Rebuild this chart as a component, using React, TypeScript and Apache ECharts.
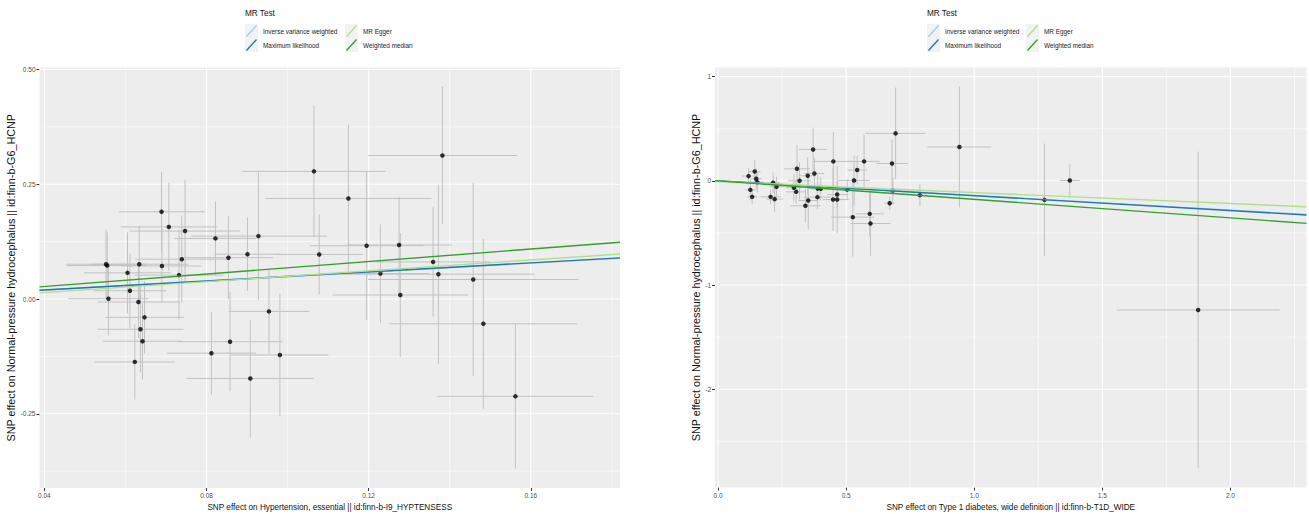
import React, { useEffect, useRef } from 'react';
import * as echarts from 'echarts';

const methods = ['Inverse variance weighted', 'Maximum likelihood', 'MR Egger', 'Weighted median'];
const methodColors = ['#a6cee3', '#1f78b4', '#b2df8a', '#33a02c'];

// Left panel: Hypertension, essential -> NPH
const htnBetaExp = [0.0552, 0.0555, 0.0558, 0.0605, 0.0611, 0.0634, 0.0632, 0.0647, 0.0637, 0.0642, 0.0623, 0.0689, 0.0707, 0.0747, 0.069, 0.0739, 0.0732, 0.0822, 0.0854, 0.0901, 0.0928, 0.0954, 0.0858, 0.0812, 0.0981, 0.0908, 0.1065, 0.1078, 0.1382, 0.115, 0.1195, 0.1275, 0.1229, 0.1359, 0.1372, 0.1458, 0.1278, 0.1483, 0.1562];
const htnBetaOut = [0.0758, 0.0728, 0.0006, 0.057, 0.018, 0.0758, -0.0065, -0.04, -0.066, -0.092, -0.137, 0.19, 0.157, 0.148, 0.072, 0.0867, 0.052, 0.132, 0.09, 0.0975, 0.137, -0.027, -0.093, -0.118, -0.122, -0.173, 0.278, 0.097, 0.3126, 0.219, 0.116, 0.1176, 0.0555, 0.0808, 0.054, 0.0425, 0.0087, -0.054, -0.212];
const htnSeExp = [0.0099, 0.01, 0.0099, 0.0107, 0.009, 0.012, 0.01, 0.0097, 0.0106, 0.0097, 0.0099, 0.0106, 0.0119, 0.0136, 0.0097, 0.0115, 0.011, 0.01, 0.011, 0.0082, 0.0168, 0.01, 0.013, 0.011, 0.012, 0.0157, 0.0177, 0.0108, 0.0184, 0.0205, 0.014, 0.013, 0.012, 0.014, 0.0237, 0.026, 0.0167, 0.0232, 0.0193];
const htnSeOut = [0.076, 0.072, 0.08, 0.088, 0.081, 0.083, 0.08, 0.079, 0.094, 0.083, 0.082, 0.087, 0.096, 0.112, 0.08, 0.095, 0.097, 0.08, 0.09, 0.08, 0.139, 0.092, 0.108, 0.09, 0.133, 0.128, 0.143, 0.087, 0.15, 0.16, 0.162, 0.105, 0.107, 0.119, 0.195, 0.21, 0.135, 0.185, 0.158];
const htnSlopes = [0.488, 0.492, 0.59, 0.68];
const htnIntercepts = [0, 0, -0.0095, 0];
const htnXTicks = [0.04, 0.08, 0.12, 0.16];
const htnXMinor = [0.06, 0.1, 0.14, 0.18];
const htnYTicks = [-0.25, 0, 0.25, 0.5];
const htnYMinor = [-0.375, -0.125, 0.125, 0.375];

// Right panel: Type 1 diabetes -> NPH
const t1dBetaExp = [0.119, 0.143, 0.149, 0.153, 0.126, 0.133, 0.215, 0.228, 0.205, 0.221, 0.308, 0.318, 0.296, 0.305, 0.371, 0.376, 0.35, 0.389, 0.401, 0.388, 0.352, 0.341, 0.45, 0.449, 0.465, 0.465, 0.504, 0.531, 0.543, 0.57, 0.526, 0.592, 0.595, 0.693, 0.679, 0.682, 0.67, 0.788, 0.942, 1.274, 1.373, 1.874];
const t1dBetaOut = [0.045, 0.089, 0.019, -0.013, -0.087, -0.154, -0.019, -0.058, -0.154, -0.176, 0.115, 0.0, -0.067, -0.106, 0.301, 0.07, 0.048, -0.074, -0.077, -0.157, -0.189, -0.24, 0.186, -0.18, -0.18, -0.132, -0.084, 0.003, 0.103, 0.186, -0.349, -0.317, -0.41, 0.455, 0.166, -0.093, -0.215, -0.138, 0.324, -0.183, 0.003, -1.24];
const t1dSeExp = [0.026, 0.023, 0.02, 0.026, 0.02, 0.02, 0.026, 0.026, 0.039, 0.032, 0.05, 0.045, 0.032, 0.039, 0.055, 0.039, 0.032, 0.039, 0.039, 0.052, 0.039, 0.06, 0.075, 0.04, 0.045, 0.039, 0.071, 0.062, 0.038, 0.061, 0.084, 0.056, 0.078, 0.116, 0.061, 0.039, 0.02, 0.026, 0.125, 0.016, 0.039, 0.318];
const t1dSeOut = [0.08, 0.11, 0.1, 0.096, 0.1, 0.07, 0.1, 0.096, 0.07, 0.12, 0.23, 0.18, 0.13, 0.112, 0.21, 0.15, 0.18, 0.13, 0.112, 0.112, 0.28, 0.16, 0.28, 0.3, 0.32, 0.128, 0.096, 0.24, 0.14, 0.26, 0.38, 0.22, 0.31, 0.44, 0.23, 0.128, 0.064, 0.105, 0.58, 0.54, 0.16, 1.52];
const t1dSlopes = [-0.141, -0.143, -0.105, -0.178];
const t1dIntercepts = [0, 0, -0.008, 0];
const t1dXTicks = [0, 0.5, 1, 1.5, 2];
const t1dXMinor = [0.25, 0.75, 1.25, 1.75, 2.25];
const t1dYTicks = [-2, -1, 0, 1];
const t1dYMinor = [-2.5, -1.5, -0.5, 0.5];

const yTitle = 'SNP effect on Normal-pressure hydrocephalus || id:finn-b-G6_HCNP';
const htnXTitle = 'SNP effect on Hypertension, essential || id:finn-b-I9_HYPTENSESS';
const t1dXTitle = 'SNP effect on Type 1 diabetes, wide definition || id:finn-b-T1D_WIDE';

function expandedRange(c: number[], se: number[]): [number, number] {
  let lo = Infinity;
  let hi = -Infinity;
  c.forEach((v, i) => {
    lo = Math.min(lo, v - se[i]);
    hi = Math.max(hi, v + se[i]);
  });
  const pad = (hi - lo) * 0.05;
  return [lo - pad, hi + pad];
}

function keyIcon(color: string) {
  const svg = `<svg xmlns="http://www.w3.org/2000/svg" width="13" height="14" viewBox="0 0 13 14"><rect width="13" height="14" fill="#f2f2f2"/><line x1="1.5" y1="12.5" x2="11.5" y2="1.5" stroke="${color}" stroke-width="1.4"/></svg>`;
  return 'image://data:image/svg+xml;charset=utf-8,' + encodeURIComponent(svg);
}

function buildPanel(
  idx: number,
  xs: number[], ys: number[], xse: number[], yse: number[],
  slopes: number[], intercepts: number[],
  xMaj: number[], xMin: number[], yMaj: number[], yMin: number[],
  xDec: number, yDec: number, xTitle: string, yNameGap: number
) {
  const xr = expandedRange(xs, xse);
  const yr = expandedRange(ys, yse);
  const labelStyle = { fontSize: 6.5, color: '#4d4d4d', margin: 4 };
  const tickStyle = { show: true, length: 3, lineStyle: { color: '#333', width: 1 } };
  const xAxis = {
    type: 'value', gridIndex: idx, min: xr[0], max: xr[1],
    name: xTitle, nameLocation: 'middle', nameGap: 14,
    nameTextStyle: { fontSize: 8.2, color: '#111' },
    axisLine: { show: false, onZero: false },
    axisTick: { ...tickStyle, customValues: xMaj },
    axisLabel: { ...labelStyle, customValues: xMaj, formatter: (v: number) => v.toFixed(xDec) },
    splitLine: { show: false },
  };
  const yAxis = {
    type: 'value', gridIndex: idx, min: yr[0], max: yr[1],
    name: yTitle, nameLocation: 'middle', nameGap: yNameGap,
    nameTextStyle: { fontSize: 10.8, color: '#111' },
    axisLine: { show: false, onZero: false },
    axisTick: { ...tickStyle, customValues: yMaj },
    axisLabel: { ...labelStyle, customValues: yMaj, formatter: (v: number) => v.toFixed(yDec) },
    splitLine: { show: false },
  };
  const gridData = [
    ...xMaj.map((v) => [v, 0, 1]),
    ...xMin.map((v) => [v, 0, 0]),
    ...yMaj.map((v) => [v, 1, 1]),
    ...yMin.map((v) => [v, 1, 0]),
  ];
  const series: any[] = [
    {
      type: 'custom', xAxisIndex: idx, yAxisIndex: idx, silent: true, z: 1,
      data: gridData,
      renderItem: (_p: any, api: any) => {
        const v = api.value(0);
        const dir = api.value(1);
        const major = api.value(2);
        const p1 = dir === 0 ? api.coord([v, yr[0]]) : api.coord([xr[0], v]);
        const p2 = dir === 0 ? api.coord([v, yr[1]]) : api.coord([xr[1], v]);
        return {
          type: 'line',
          shape: { x1: p1[0], y1: p1[1], x2: p2[0], y2: p2[1] },
          style: { stroke: '#ffffff', lineWidth: major ? 1.1 : 0.55 },
        };
      },
    },
    {
      type: 'custom', xAxisIndex: idx, yAxisIndex: idx, silent: true, z: 2,
      data: xs.map((x, i) => [x, ys[i], xse[i], yse[i]]),
      renderItem: (_p: any, api: any) => {
        const x = api.value(0);
        const y = api.value(1);
        const ex = api.value(2);
        const ey = api.value(3);
        const h1 = api.coord([x - ex, y]);
        const h2 = api.coord([x + ex, y]);
        const v1 = api.coord([x, y - ey]);
        const v2 = api.coord([x, y + ey]);
        const style = { stroke: '#c2c2c2', lineWidth: 1 };
        return {
          type: 'group',
          children: [
            { type: 'line', shape: { x1: v1[0], y1: v1[1], x2: v2[0], y2: v2[1] }, style },
            { type: 'line', shape: { x1: h1[0], y1: h1[1], x2: h2[0], y2: h2[1] }, style },
          ],
        };
      },
    },
    {
      type: 'scatter', name: 'SNP', xAxisIndex: idx, yAxisIndex: idx, silent: true, z: 3,
      symbolSize: 4.5, itemStyle: { color: '#000' },
      data: xs.map((x, i) => [x, ys[i]]),
    },
    ...methods.map((m, k) => ({
      type: 'line', name: m, xAxisIndex: idx, yAxisIndex: idx, silent: true, z: 4,
      symbol: 'none', showSymbol: false,
      lineStyle: { color: methodColors[k], width: 1.4 },
      itemStyle: { color: methodColors[k] },
      data: [
        [xr[0], intercepts[k] + slopes[k] * xr[0]],
        [xr[1], intercepts[k] + slopes[k] * xr[1]],
      ],
    })),
  ];
  return { xAxis, yAxis, series };
}

function buildOption() {
  const left = buildPanel(0, htnBetaExp, htnBetaOut, htnSeExp, htnSeOut, htnSlopes, htnIntercepts,
    htnXTicks, htnXMinor, htnYTicks, htnYMinor, 2, 2, htnXTitle, 20);
  const right = buildPanel(1, t1dBetaExp, t1dBetaOut, t1dSeExp, t1dSeOut, t1dSlopes, t1dIntercepts,
    t1dXTicks, t1dXMinor, t1dYTicks, t1dYMinor, 1, 0, t1dXTitle, 8);
  const legendBase = {
    orient: 'vertical', top: 24, itemWidth: 13, itemHeight: 14, itemGap: 0, padding: 0,
    selectedMode: false, textStyle: { fontSize: 6.4, color: '#222' },
  };
  const legendItems = (a: number, b: number) => [
    { name: methods[a], icon: keyIcon(methodColors[a]) },
    { name: methods[b], icon: keyIcon(methodColors[b]) },
  ];
  return {
    animation: false,
    backgroundColor: '#ffffff',
    textStyle: { fontFamily: 'Liberation Sans, Arial, Helvetica, sans-serif' },
    title: [
      { text: 'MR Test', left: 245, top: 9, padding: 0, textStyle: { fontSize: 8.2, fontWeight: 'normal', color: '#111' } },
      { text: 'MR Test', left: 927, top: 9, padding: 0, textStyle: { fontSize: 8.2, fontWeight: 'normal', color: '#111' } },
    ],
    legend: [
      { ...legendBase, left: 245, data: legendItems(0, 1) },
      { ...legendBase, left: 345, data: legendItems(2, 3) },
      { ...legendBase, left: 927, data: legendItems(0, 1) },
      { ...legendBase, left: 1026, data: legendItems(2, 3) },
    ],
    grid: [
      { left: 39.5, top: 67.5, width: 580.5, height: 420.5, show: true, backgroundColor: '#ededed', borderWidth: 0, containLabel: false, outerBoundsMode: 'none' },
      { left: 715, top: 67.5, width: 591.5, height: 420, show: true, backgroundColor: '#ededed', borderWidth: 0, containLabel: false, outerBoundsMode: 'none' },
    ],
    xAxis: [left.xAxis, right.xAxis],
    yAxis: [left.yAxis, right.yAxis],
    series: [...left.series, ...right.series],
  };
}

export default function App() {
  const ref = useRef<HTMLDivElement>(null);
  useEffect(() => {
    const chart = echarts.init(ref.current!, null, { renderer: 'svg' });
    chart.setOption(buildOption() as any);
    return () => chart.dispose();
  }, []);
  return (
    <div
      ref={ref}
      style={{ position: 'fixed', left: 0, top: 0, width: 1309, height: 514, background: '#fff' }}
    />
  );
}
